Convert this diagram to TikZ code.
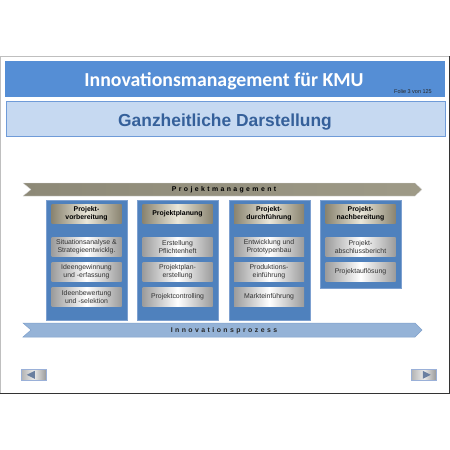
\documentclass[tikz,border=0pt]{standalone}
\usepackage{fontspec}
\setmainfont{Liberation Sans}
\newfontfamily\titlefont{Carlito}
\definecolor{titleblue}{HTML}{558ED5}
\definecolor{subfill}{HTML}{C6D9F1}
\definecolor{subdraw}{HTML}{6F9BD8}
\definecolor{subtext}{HTML}{35609A}
\definecolor{colblue}{HTML}{4F81BD}
\definecolor{colborder}{HTML}{7DA0D0}
\definecolor{khakidark}{HTML}{8A8470}
\definecolor{khakilight}{HTML}{EAE7DA}
\definecolor{graydark}{HTML}{9C9C9C}
\definecolor{procfill}{HTML}{95B3D7}
\definecolor{procdraw}{HTML}{7FA0CC}
\definecolor{pmleft}{HTML}{8D8977}
\definecolor{pmmid}{HTML}{E6E3D6}
\definecolor{pmright}{HTML}{9E9A87}
\definecolor{navtri}{HTML}{6A7FA0}
\definecolor{navborder}{HTML}{9AB0D8}
\makeatletter
\newcommand\lspaced[2]{\def\ls@sep{}\@tfor\ls@c:=#2\do{\ls@sep\ls@c\def\ls@sep{\kern#1}}}
\makeatother
\tikzset{
  colbox/.style={fill=colblue, draw=colborder, line width=0.6pt, anchor=north west, inner sep=0pt, minimum width=81, },
  headbox/.style={left color=khakidark, right color=khakidark, middle color=khakilight, draw=none, anchor=north, minimum width=70, minimum height=19, inner sep=0pt, align=center, font=\fontsize{6.9}{8.3}\selectfont\bfseries, text=black},
  itembox/.style={left color=graydark, right color=graydark, middle color=white, draw=none, anchor=north, minimum width=70, minimum height=19, inner sep=0pt, align=center, font=\fontsize{6.9}{8.3}\selectfont, text=black!80},
  bandtext/.style={font=\fontsize{6.9}{8}\selectfont\bfseries, inner sep=0pt},
  navbtn/.style={left color=black!30, right color=black!40, middle color=black!8, draw=navborder, line width=0.6pt, minimum width=25, minimum height=11, inner sep=0pt, anchor=north west},
}
\begin{document}
\begin{tikzpicture}[x=1pt,y=-1pt]
\useasboundingbox (0,0) rectangle (450,450);
\fill[white] (0,0) rectangle (450,450);
% slide frame
\draw[black!25, line width=1pt] (0.5,393) -- (0.5,56.5) -- (449,56.5);
\draw[black!80, line width=1pt] (449.5,56) -- (449.5,393.5) -- (0,393.5);
% title
\node[fill=titleblue, minimum width=440, minimum height=36, inner sep=0pt, anchor=north west] (titlebar) at (5,61) {};
\node[anchor=base, text=white, font=\titlefont\bfseries\fontsize{19.8}{21}\selectfont, inner sep=0pt] (title) at (224,86) {Innovationsmanagement für KMU};
\node[anchor=base east, font=\fontsize{5.5}{6}\selectfont, text=black!85, inner sep=0pt] (folie) at (432,93) {Folie 3 von 125};
% subtitle
\node[fill=subfill, draw=subdraw, line width=1pt, minimum width=439, minimum height=35, inner sep=0pt, anchor=north west] (subbar) at (5.5,100.5) {};
\node[anchor=base, text=subtext, font=\fontsize{17.4}{18}\selectfont\bfseries, inner sep=0pt] (subtitle) at (225,126) {Ganzheitliche Darstellung};
% Projektmanagement band
\path[left color=pmleft, middle color=pmmid, right color=pmright, draw=white!85!black, line width=0.3pt]
  (23,183) -- (415,183) -- (422,189.5) -- (415,196) -- (23,196) -- (31,189.5) -- cycle;
\node[bandtext] (pm) at (224,190) {\lspaced{2.4pt}{Projektmanagement}};
% columns
\node[colbox, minimum height=120] (c1) at (46,200) {};
\node[colbox, minimum height=120] (c2) at (137,200) {};
\node[colbox, minimum height=120] (c3) at (228.5,200) {};
\node[colbox, minimum height=88] (c4) at (320,200) {};
% headers
\node[headbox] (h1) at (86.5,204) {Projekt-\\vorbereitung};
\node[headbox] (h2) at (177.5,204) {Projektplanung};
\node[headbox] (h3) at (269,204) {Projekt-\\durchführung};
\node[headbox] (h4) at (360.5,204) {Projekt-\\nachbereitung};
% items column 1
\node[itembox] (i11) at (86.5,237) {Situationsanalyse \&\\Strategieentwicklg.};
\node[itembox] (i12) at (86.5,262) {Ideengewinnung\\und -erfassung};
\node[itembox] (i13) at (86.5,287) {Ideenbewertung\\und -selektion};
% items column 2
\node[itembox] (i21) at (177.5,237) {Erstellung\\Pflichtenheft};
\node[itembox] (i22) at (177.5,262) {Projektplan-\\erstellung};
\node[itembox] (i23) at (177.5,287) {Projektcontrolling};
% items column 3
\node[itembox] (i31) at (269,237) {Entwicklung und\\Prototypenbau};
\node[itembox] (i32) at (269,262) {Produktions-\\einführung};
\node[itembox] (i33) at (269,287) {Markteinführung};
% items column 4
\node[itembox] (i41) at (360.5,237) {Projekt-\\abschlussbericht};
\node[itembox] (i42) at (360.5,262) {Projektauflösung};
% Innovationsprozess band
\path[fill=procfill, draw=procdraw, line width=0.5pt]
  (23,323) -- (415,323) -- (422,330) -- (415,337) -- (23,337) -- (31,330) -- cycle;
\node[bandtext, text=black!85] (ip) at (224,330.5) {\lspaced{2.45pt}{Innovationsprozess}};
% navigation buttons
\node[navbtn] (prev) at (21,369) {};
\node[navbtn] (next) at (411,369) {};
\fill[navtri] ([xshift=-2pt]prev.center) ++(-5,0) -- ++(8,-4) -- ++(0,8) -- cycle;
\fill[navtri] ([xshift=2pt]next.center) ++(5,0) -- ++(-8,-4) -- ++(0,8) -- cycle;
\end{tikzpicture}
\end{document}
